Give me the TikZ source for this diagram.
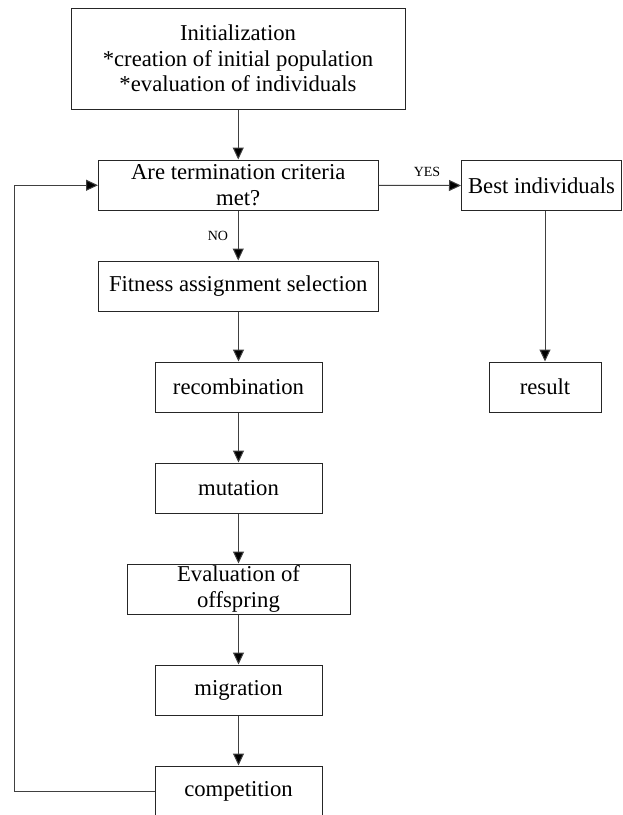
\documentclass[tikz,border=0pt]{standalone}
\usepackage{fontspec}
\setmainfont{Liberation Serif}
\usetikzlibrary{arrows.meta}
\begin{document}
\begin{tikzpicture}[x=1pt,y=-1pt,
  box/.style={draw=black!85,line width=1pt,align=center,inner sep=0pt,
    font=\fontsize{22.7}{25.5}\selectfont},
  arr/.style={draw=black!75,line width=1pt,-{Triangle[length=12pt,width=11pt,fill=black]}},
  lbl/.style={font=\fontsize{14}{16}\selectfont,inner sep=0pt}]
\useasboundingbox (0,0) rectangle (622,815);
\node[box,minimum width=334pt,minimum height=101pt] (init) at (238,58.5)
  {Initialization\\*creation of initial population\\*evaluation of individuals};
\node[box,minimum width=279.5pt,minimum height=50.5pt] (term) at (238.25,185.25)
  {Are termination criteria\\met?};
\node[box,minimum width=160pt,minimum height=50pt] (best) at (541.5,185.5)
  {Best individuals};
\node[box,minimum width=112pt,minimum height=50pt] (res) at (545,387) {result};
\node[box,minimum width=279.5pt,minimum height=50pt] (fit) at (238.25,286)
  {Fitness assignment selection};
\node[box,minimum width=167pt,minimum height=50pt] (rec) at (238.5,387) {recombination};
\node[box,minimum width=167pt,minimum height=50pt] (mut) at (238.5,488) {mutation};
\node[box,minimum width=223pt,minimum height=50pt] (eva) at (238.5,589)
  {Evaluation of\\offspring};
\node[box,minimum width=167pt,minimum height=50pt] (mig) at (238.5,690) {migration};
\node[box,minimum width=167pt,minimum height=50pt] (comp) at (238.5,791) {competition};
\node[lbl] (yes) at (427,172) {YES};
\node[lbl] (no) at (218,236) {NO};
\coordinate (loopc) at (14.3,791);
\draw[arr] (init.south -| term.north) -- (term.north);
\draw[arr] (term.east) -- (best.west);
\draw[arr] (term.south) -- (fit.north);
\draw[arr] (best.south -| res.north) -- (res.north);
\draw[arr] (fit.south -| rec.north) -- (rec.north);
\draw[arr] (rec) -- (mut);
\draw[arr] (mut.south) -- (eva.north);
\draw[arr] (eva.south) -- (mig.north);
\draw[arr] (mig.south) -- (comp.north);
\draw[arr] (comp.west) -- (loopc) |- (term.west);
\end{tikzpicture}
\end{document}
